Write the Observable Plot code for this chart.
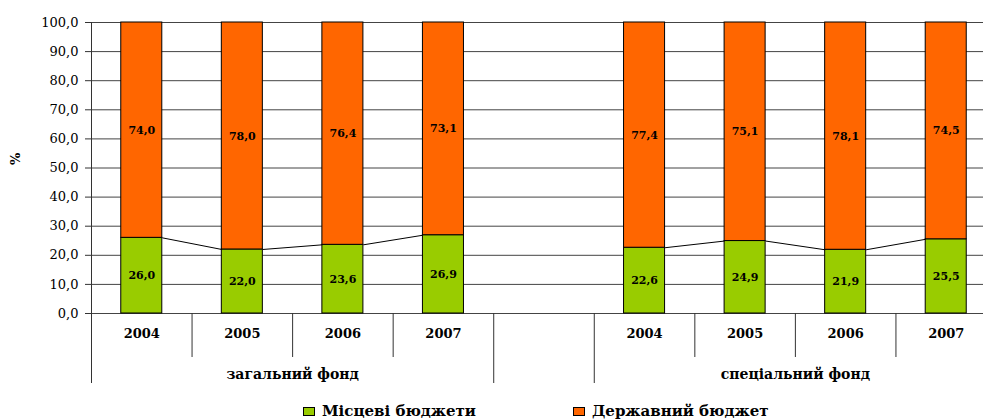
<!DOCTYPE html>
<html><head><meta charset="utf-8">
<script src="https://cdn.jsdelivr.net/npm/d3@7"></script>
<script src="https://cdn.jsdelivr.net/npm/@observablehq/plot@0.6"></script>
<style>
html,body{margin:0;padding:0;background:#fff;}
body{width:983px;height:420px;overflow:hidden;position:relative;font-family:"DejaVu Serif",serif;}
#legend{position:absolute;left:0;top:398px;width:983px;height:22px;}
.item{position:absolute;top:5px;display:flex;align-items:center;font-weight:bold;font-size:15px;line-height:17px;color:#000;white-space:nowrap;}
.sw{width:10px;height:7px;border:1px solid #000;margin-right:7px;}
</style></head>
<body><div id="chart"></div><div id="legend"></div>
<script>
// ---- data ----
const groupNames = ["загальний фонд", "спеціальний фонд"];
const years = ["2004", "2005", "2006", "2007"];
const seriesNames = ["Місцеві бюджети", "Державний бюджет"];
const seriesColors = ["#99CC00", "#FF6600"];
const localGeneral = [26.0, 22.0, 23.6, 26.9];
const stateGeneral = [74.0, 78.0, 76.4, 73.1];
const localSpecial = [22.6, 24.9, 21.9, 25.5];
const stateSpecial = [77.4, 75.1, 78.1, 74.5];
const yTicks = [0, 10, 20, 30, 40, 50, 60, 70, 80, 90, 100];

// ---- build tables ----
const localByGroup = [localGeneral, localSpecial];
const stateByGroup = [stateGeneral, stateSpecial];
const SLOTS_PER_GROUP = years.length + 1; // one empty slot between groups
const rows = [];
groupNames.forEach((g, gi) => {
  years.forEach((yr, k) => {
    rows.push({slot: gi * SLOTS_PER_GROUP + k, group: g, gi, year: yr,
      local: localByGroup[gi][k], state: stateByGroup[gi][k]});
  });
});
const segs = [];
rows.forEach(r => {
  segs.push({slot: r.slot, series: seriesNames[0], y1: 0, y2: r.local, value: r.local});
  segs.push({slot: r.slot, series: seriesNames[1], y1: r.local, y2: r.local + r.state, value: r.state});
});
const BAR_HALF = 0.204;
const conns = [];
for (let i = 1; i < rows.length; i++) {
  if (rows[i].gi === rows[i - 1].gi) conns.push({a: rows[i - 1], b: rows[i]});
}
const slotYear = new Map(rows.map(r => [r.slot, r.year]));
const groupCenters = groupNames.map((g, gi) => gi * SLOTS_PER_GROUP + (years.length - 1) / 2);
const nSlots = groupNames.length * SLOTS_PER_GROUP - 1;
const bounds = d3.range(-0.5, nSlots, 1);
const longBounds = [];
groupNames.forEach((g, gi) => { longBounds.push(gi * SLOTS_PER_GROUP - 0.5, gi * SLOTS_PER_GROUP + years.length - 0.5); });
const shortBounds = bounds.filter(b => !longBounds.includes(b));
const fmt = v => d3.format(".1f")(v).replace(".", ",");

const chart = Plot.plot({
  width: 983, height: 398,
  marginLeft: 91, marginRight: -13, marginTop: 22, marginBottom: 85,
  x: {domain: [-0.5, nSlots - 0.5], axis: null},
  y: {domain: [0, 100], axis: null},
  color: {domain: seriesNames, range: seriesColors},
  style: {fontFamily: "DejaVu Serif", background: "white", overflow: "visible", color: "#000"},
  marks: [
    Plot.ruleY(yTicks, {stroke: "#444", strokeWidth: 1}),
    Plot.rectY(segs, {x1: d => d.slot - BAR_HALF, x2: d => d.slot + BAR_HALF, y1: "y1", y2: "y2", fill: "series", stroke: "#000", strokeWidth: 1}),
    Plot.link(conns, {x1: d => d.a.slot + BAR_HALF, y1: d => d.a.local, x2: d => d.b.slot - BAR_HALF, y2: d => d.b.local, stroke: "#000", strokeWidth: 1}),
    Plot.text(segs, {x: "slot", y: d => (d.y1 + d.y2) / 2, text: d => fmt(d.value), fontWeight: "bold", fontSize: 11, fill: "#000"}),
    Plot.ruleX([-0.5], {stroke: "#333"}),
    Plot.axisY(yTicks, {tickSize: 6, tickPadding: 7, tickFormat: fmt, fontSize: 13, label: null, stroke: "#333"}),
    Plot.axisX(shortBounds, {tickSize: 44, tickFormat: () => "", label: null, stroke: "#333"}),
    Plot.axisX(longBounds, {tickSize: 70, tickFormat: () => "", label: null, stroke: "#333"}),
    Plot.axisX(Array.from(slotYear.keys()), {tickSize: 0, tickPadding: 15, tickFormat: s => slotYear.get(s), fontWeight: "bold", fontSize: 13, label: null}),
    Plot.axisX(groupCenters, {tickSize: 0, tickPadding: 56, tickFormat: c => groupNames[groupCenters.indexOf(c)], fontWeight: "bold", fontSize: 14, label: null}),
    Plot.text(["%"], {frameAnchor: "left", dx: -76, dy: -3, rotate: -90, fontWeight: "bold", fontSize: 13, fill: "#000"})
  ]
});
document.getElementById("chart").appendChild(chart);

const legend = document.getElementById("legend");
const legendLeft = [303, 573];
seriesNames.forEach((name, i) => {
  const it = document.createElement("div");
  it.className = "item";
  it.style.left = legendLeft[i] + "px";
  const sw = document.createElement("span");
  sw.className = "sw";
  sw.style.background = seriesColors[i];
  it.appendChild(sw);
  it.appendChild(document.createTextNode(name));
  legend.appendChild(it);
});
</script>
</body></html>
